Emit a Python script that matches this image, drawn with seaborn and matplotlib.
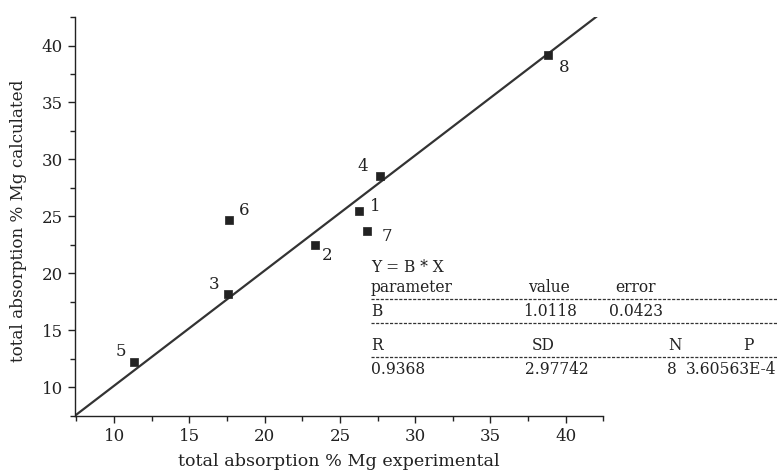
import numpy as np
import pandas as pd
import matplotlib
matplotlib.use('Agg')
import matplotlib.pyplot as plt
import seaborn as sns
from matplotlib.lines import Line2D
from matplotlib.ticker import MultipleLocator

# measured vs calculated absorption, point labels 1..8
labels = ['1', '2', '3', '4', '5', '6', '7', '8']
experimental = [26.25, 23.35, 17.55, 27.65, 11.35, 17.6, 26.8, 38.85]
calculated = [25.45, 22.5, 18.2, 28.5, 12.2, 24.7, 23.75, 39.15]
# label offsets in points (dx, dy)
label_dx = [12, 8.5, -10, -12, -10, 11, 14, 11.5]
label_dy = [3.5, -8, 6.5, 7, 7.5, 7, -4.5, -8.5]

slope_b = 1.0118
slope_err = 0.0423
stats_names = ['R', 'SD', 'N', 'P']
stats_values = ['0.9368', '2.97742', '8', '3.60563E-4']

df = pd.DataFrame({'x': experimental, 'y': calculated, 'label': labels})
xmin, xmax = 7.4, 42.5
fit = pd.DataFrame({'x': [xmin, xmax + 0.5]})
fit['y'] = slope_b * fit['x']

sns.set_style('ticks')
plt.rcParams['font.family'] = ['DejaVu Serif']
plt.rcParams['font.size'] = 12

fig = plt.figure(figsize=(7.77, 4.75), dpi=100)
ax = fig.add_axes([0.0965, 0.124, 0.68, 0.84])

sns.lineplot(data=fit, x='x', y='y', ax=ax, color='#333333', linewidth=1.6)
sns.scatterplot(data=df, x='x', y='y', ax=ax, marker='s', s=36, color='#222222',
                edgecolor='#222222', linewidth=0.5, zorder=3)
for i, row in df.iterrows():
    ax.annotate(row['label'], (row['x'], row['y']), xytext=(label_dx[i], label_dy[i]),
                textcoords='offset points', ha='center', va='center', fontsize=12, color='#222222')

ax.set_xlim(xmin, xmax)
ax.set_ylim(7.45, 42.5)
ax.xaxis.set_major_locator(MultipleLocator(5))
ax.xaxis.set_minor_locator(MultipleLocator(2.5))
ax.yaxis.set_major_locator(MultipleLocator(5))
ax.yaxis.set_minor_locator(MultipleLocator(2.5))
ax.tick_params(which='major', length=5, width=1, colors='#222222', labelsize=12)
ax.tick_params(which='minor', length=3.5, width=1, colors='#222222')
sns.despine(ax=ax)
for sp in ['left', 'bottom']:
    ax.spines[sp].set_color('#222222')
    ax.spines[sp].set_linewidth(1)
ax.set_xlabel('total absorption % Mg experimental', fontsize=12.6, color='#222222', labelpad=6)
ax.set_ylabel('total absorption % Mg calculated', fontsize=12.1, color='#222222')
ax.yaxis.set_label_coords(-0.091, 0.49)

# fit summary table in figure pixel coordinates
W, H = 777, 475


def ftext(px, py, s, ha='left'):
    fig.text(px / W, 1 - py / H, s, ha=ha, va='center', fontsize=11.2, color='#222222')


def dash(py):
    fig.add_artist(Line2D([371 / W, 1.0], [1 - py / H] * 2, transform=fig.transFigure,
                          color='#333333', linewidth=0.9, linestyle=(0, (2.5, 1.2))))


ftext(371, 267, 'Y = B * X')
ftext(371, 288, 'parameter')
ftext(549, 288, 'value', ha='center')
ftext(636, 288, 'error', ha='center')
dash(299)
ftext(371, 311, 'B')
ftext(550, 311, f'{slope_b:.4f}', ha='center')
ftext(636, 311, f'{slope_err:.4f}', ha='center')
dash(323)
stat_x = [371, 543, 675, 748]
stat_ha = ['left', 'center', 'center', 'center']
for name, px, ha in zip(stats_names, stat_x, stat_ha):
    ftext(px, 346, name, ha=ha)
dash(357)
val_x = [371, 557, 672, 776]
val_ha = ['left', 'center', 'center', 'right']
for val, px, ha in zip(stats_values, val_x, val_ha):
    ftext(px, 369, val, ha=ha)

fig.savefig('out.png', dpi=100)
